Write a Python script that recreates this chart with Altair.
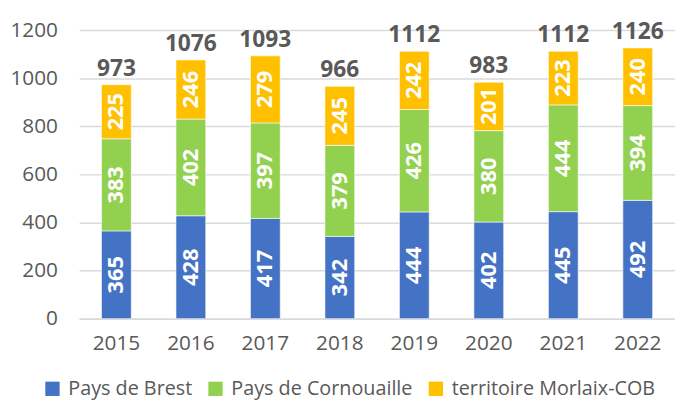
import altair as alt
import pandas as pd

years = ["2015", "2016", "2017", "2018", "2019", "2020", "2021", "2022"]
series = ["Pays de Brest", "Pays de Cornouaille", "territoire Morlaix-COB"]
brest = [365, 428, 417, 342, 444, 402, 445, 492]
cornouaille = [383, 402, 397, 379, 426, 380, 444, 394]
morlaix = [225, 246, 279, 245, 242, 201, 223, 240]
colors = ["#4472C4", "#92D050", "#FFC000"]

rows = []
for i, y in enumerate(years):
    for k, (name, vals) in enumerate(zip(series, [brest, cornouaille, morlaix])):
        rows.append({"year": y, "series": name, "value": vals[i], "order": k})
df = pd.DataFrame(rows)

x = alt.X("year:N", title=None, sort=years,
          scale=alt.Scale(paddingInner=0.6, paddingOuter=0.3),
          axis=alt.Axis(labelAngle=0, ticks=False, domain=True, domainColor="#d9d9d9",
                        domainWidth=1.5,
                        labelFont="Open Sans", labelFontSize=21, labelColor="#595959",
                        labelPadding=14))

base = alt.Chart(df).transform_stack(
    stack="value", groupby=["year"], as_=["y0", "y1"], sort=[alt.SortField("order")]
).transform_calculate(mid="(datum.y0 + datum.y1) / 2")

bars = base.mark_bar(stroke="white", strokeWidth=0.6).encode(
    x=x,
    y=alt.Y("y0:Q", title=None,
            scale=alt.Scale(domain=[0, 1200]),
            axis=alt.Axis(values=[0, 200, 400, 600, 800, 1000, 1200], ticks=False, domain=False,
                          format="d",
                          grid=True, gridColor="#d9d9d9", gridWidth=1.5,
                          labelFont="Open Sans", labelFontSize=21, labelColor="#595959",
                          labelPadding=22)),
    y2="y1:Q",
    color=alt.Color("series:N", sort=series,
                    scale=alt.Scale(domain=series, range=colors),
                    legend=alt.Legend(title=None, orient="none", direction="horizontal",
                                      legendX=-37, legendY=353,
                                      symbolType="square", symbolSize=210,
                                      symbolStrokeWidth=0, labelFont="Open Sans",
                                      labelFontSize=20, labelColor="#595959",
                                      labelLimit=0,
                                      columnPadding=13, labelOffset=6)),
    order=alt.Order("order:Q"),
)

labels = base.mark_text(angle=270, color="white", font="Open Sans", fontWeight="bold",
                        fontSize=22, baseline="middle", align="center").encode(
    x=x,
    y=alt.Y("mid:Q"),
    text=alt.Text("value:Q"),
)

totals = alt.Chart(df).mark_text(color="#595959", font="Open Sans", fontWeight="bold",
                                 fontSize=23, baseline="alphabetic", dy=-9).encode(
    x=x,
    y=alt.Y("sum(value):Q"),
    text=alt.Text("sum(value):Q"),
)

chart = alt.layer(bars, labels, totals).properties(
    width=603, height=292,
    autosize=alt.AutoSizeParams(type="none"),
    padding={"left": 72, "top": 20, "right": 0, "bottom": 84},
).configure_view(stroke=None)

chart.save("out.html", embed_options={"renderer": "svg", "actions": False})
